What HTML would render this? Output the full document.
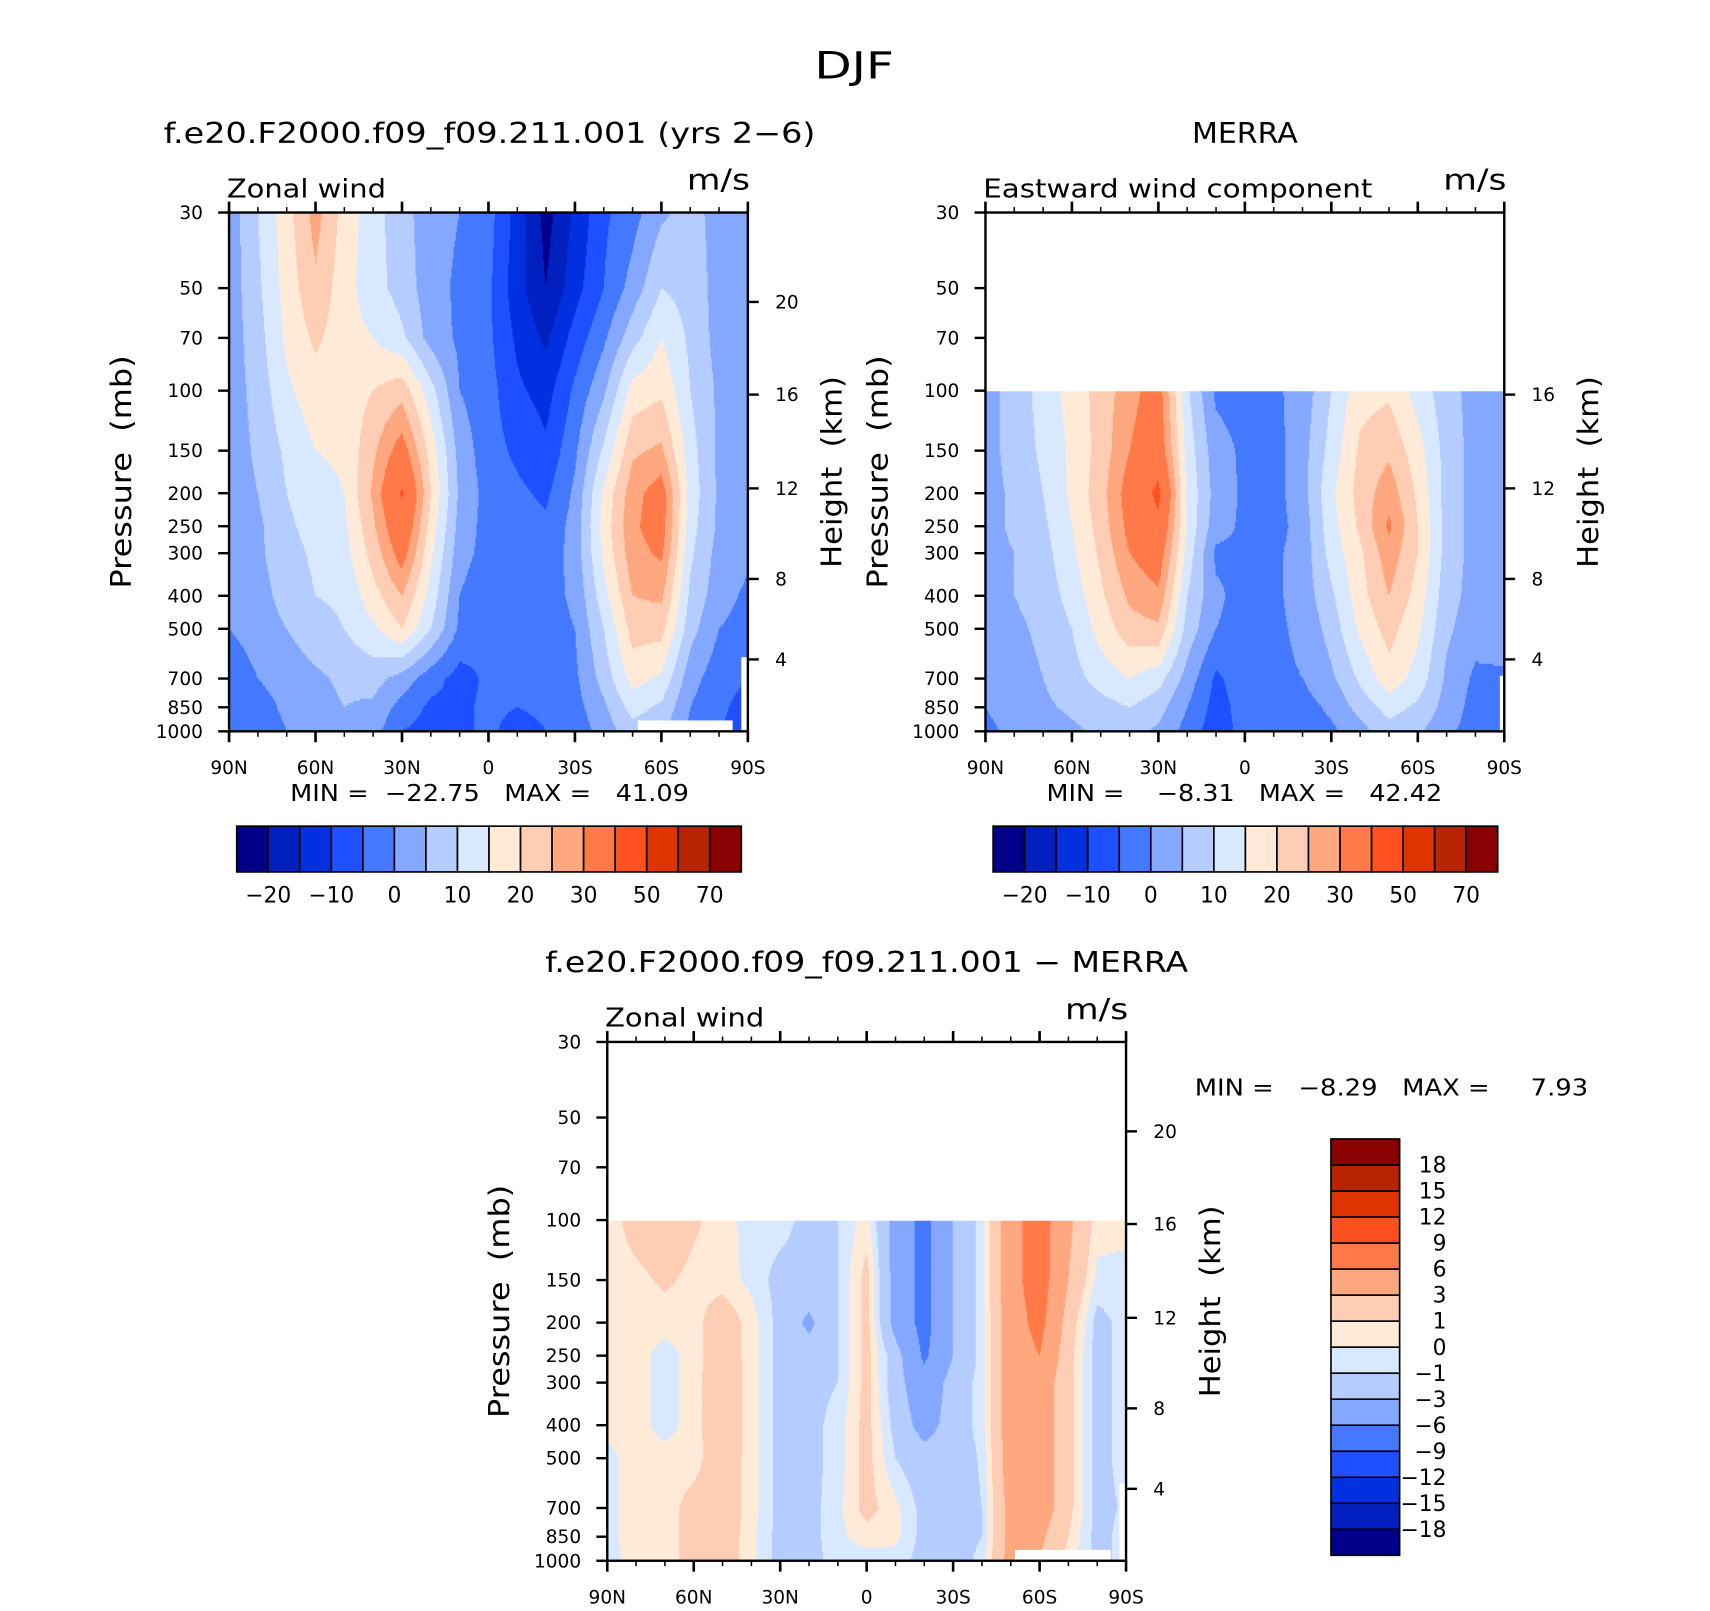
<!DOCTYPE html>
<html><head><meta charset="utf-8"><style>
html,body{margin:0;padding:0;background:#fff;}
svg{display:block;font-family:"DejaVu Sans","Liberation Sans",sans-serif;}
text{white-space:pre;}
</style></head><body>
<svg id="root" width="1710" height="1611" viewBox="0 0 1568.6 1478.1" xmlns="http://www.w3.org/2000/svg">
<text x="747" y="72" font-size="34" textLength="73" lengthAdjust="spacingAndGlyphs" fill="#000">DJF</text>
</svg>
<script>
// ---------- data ----------
const lats = ['90N','80N','70N','60N','50N','40N','30N','20N','10N','0','10S','20S','30S','40S','50S','60S','70S','80S','90S'];
const xTickLabels = ['90N','60N','30N','0','30S','60S','90S'];
const levels = [30,50,70,100,150,200,250,300,400,500,700,850,1000];
const pTickLabels = [30,50,70,100,150,200,250,300,400,500,700,850,1000];
const heightKm = [20,16,12,8,4];
const heightP = [54.9,102.7,193.6,357,615];

const modelU = [
 [2,10,18,27,18,12,7,2,0,-3,-12,-22,-14,-6,-2,4,7,3,2],
 [2,9,17,24,17,12,8,2,-1,-4,-13,-20,-12,-5,2,10,8,3,2],
 [2,8,16,21,17,15,11,3,-1,-4,-11,-16,-8,-1,8,15,9,3,2],
 [2,7,14,18,17,20,23,12,0,-3,-9,-12,-4,4,17,19,10,4,2],
 [2,6,11,15,16,24,33,18,3,-3,-6,-9,-1,11,24,26,12,4,2],
 [2,5,10,13,15,26,41,20,4,-2,-4,-6,1,16,28,33,13,4,2],
 [1,4,9,12,14,24,37,18,3,-2,-3,-4,2,17,29,33,12,4,1],
 [1,4,8,11,13,22,33,16,2,-2,-3,-3,2,16,28,31,11,3,1],
 [0,3,7,10,11,18,25,13,0,-4,-3,-2,1,13,25,26,9,2,-1],
 [0,2,5,8,10,14,20,10,-1,-4,-3,-2,0,10,22,22,7,0,-2],
 [-3,0,2,4,6,7,3,-3,-7,-4,-3,-3,-1,7,17,14,2,-3,-5],
 [-4,-2,1,3,5,4,-2,-6,-6,-4,-5,-4,-2,4,12,9,0,-4,-7],
 [-4,-3,0,3,4,2,-5,-7,-6,-4,-7,-5,-3,2,8,6,-1,-5,-7]
];
const merraU = [
 null,null,null,
 [3,7,12,17,22,28,33,11,-1,-2,-1,2,10,18,19,13,7,3,3],
 [3,7,11,16,22,30,35,13,2,-1,-2,3,12,21,24,17,8,3,3],
 [3,6,10,16,23,33,42,14,3,-1,-2,3,14,22,28,19,8,3,3],
 [3,6,9,15,22,32,38,14,2,-1,-2,2,13,21,31,20,8,3,3],
 [3,5,8,14,21,30,34,13,-1,-1,-1,2,12,19,28,20,8,3,3],
 [3,5,7,12,19,26,29,10,1,-2,-1,2,9,18,25,18,7,3,3],
 [3,4,6,10,17,23,24,8,0,-2,-1,1,7,16,22,16,6,2,3],
 [2,3,5,8,12,15,12,3,-6,-2,-1,0,4,11,18,13,4,-1,-1],
 [0,2,4,6,8,10,7,0,-7,-3,-2,-2,1,7,12,9,3,-2,-3],
 [-1,1,2,4,6,7,4,-2,-8,-3,-2,-2,-1,3,8,6,1,-2,-4]
];
const diffU = [
 null,null,null,
 [0.5,1.5,2,1.2,0.5,-0.5,-0.5,-1.5,-1,0.5,-4,-7,-3,-0.5,5,7.5,3.5,0.5,0.5],
 [0.5,0.7,1.2,0.7,0.5,-0.3,-1.5,-1.5,-1,1.5,-4,-7,-3,-0.5,5,7.5,3,-0.3,-0.5],
 [0.5,0.5,0.5,0.5,2,0.5,-1.5,-3.5,-1,1.5,-4,-7,-3,-0.5,4.5,7,2,-1.5,-0.5],
 [0.5,0.5,-0.5,0.5,2,0.5,-1.5,-2,-1,1.5,-2,-6.5,-3,-0.5,4.5,6,1.5,-1.5,-0.5],
 [0.5,0.5,-0.5,0.5,2.2,0.5,-1.5,-1.5,-1,1.5,-2,-5,-2,-0.5,4.5,4.5,1.5,-1.5,-0.5],
 [0.3,0.5,-0.5,0.5,2.2,0.5,-1.5,-1.5,-0.5,1.5,-1.5,-4,-2,-0.5,4.5,4.5,1.5,-1.5,-0.5],
 [-0.3,0.5,0.5,0.5,2,0.5,-1.5,-1.5,-0.5,1.5,-1,-2,-2,-0.8,4.5,4.5,1.5,-1.5,-0.5],
 [-0.3,0.5,0.5,1.5,2,0.5,-1.5,-1.5,-0.3,1.5,0.3,-1.5,-2,-1,4,4.5,1.5,-1.5,-0.8],
 [-0.3,0.5,0.5,1.5,2,0.3,-1.5,-1.5,-0.3,0.5,0.3,-1.5,-2,-1,4,3.5,1,-1.5,-0.5],
 [-0.3,0.3,0.5,1.5,2,0.3,-1.5,-1.5,-0.5,-0.5,-0.5,-1.5,-2,-0.5,4,3,0.5,-1.5,-0.5]
];
const colors = ['#00008b','#0020c0','#0030e0','#1e50ff','#4478ff','#84a8ff','#b4ccff','#d8e8ff','#ffead8','#ffccb4','#ffa880','#ff7a48','#ff5020','#e03400','#b82400','#8b0000'];
const windLevels = [-20,-15,-10,-5,0,5,10,15,20,25,30,40,50,60,70];
const windLabels = ['\u221220','\u221210','0','10','20','30','50','70'];
const diffLevels = [-18,-15,-12,-9,-6,-3,-1,0,1,3,6,9,12,15,18];
const diffLabels = ['\u221218','\u221215','\u221212','\u22129','\u22126','\u22123','\u22121','0','1','3','6','9','12','15','18'];

// ---------- rendering ----------
const NS='http://www.w3.org/2000/svg';
const root=document.getElementById('root');
function el(tag,attrs,parent,text){const e=document.createElementNS(NS,tag);for(const k in attrs)e.setAttribute(k,attrs[k]);if(text!==undefined)e.textContent=text;(parent||root).appendChild(e);return e;}
function fit(e,len){e.setAttribute('textLength',len);e.setAttribute('lengthAdjust','spacingAndGlyphs');return e;}
const S=476, LN=Math.log(1000/30);
function colorFor(v,lv){let i=0;while(i<lv.length&&v>=lv[i])i++;return colors[i];}

function panel(ox,oy,field,name,opts){
  const g=el('g',{});
  
  
  const xs=i=>ox+i*S/(lats.length-1);
  const yp=p=>oy+S*Math.log(p/30)/LN;
  const lp=levels.map(p=>Math.log(p));
  const cg=el('g',{},g);
  
  
  const dy=2;
  for(let y=0;y<S;y+=dy){
    const l=Math.log(30)+(y+dy/2)/S*LN;
    let k=0;while(k<levels.length-2&&lp[k+1]<l)k++;
    const r0=field[k], r1=field[k+1];
    if(!r0||!r1) continue;
    const t=(l-lp[k])/(lp[k+1]-lp[k]);
    let runStart=0,runCol=null;
    for(let x=0;x<=S;x++){
      let c=null;
      if(x<S){
        const fi=(x+0.5)/S*(lats.length-1);
        let i=Math.min(Math.floor(fi),lats.length-2);const u=fi-i;
        const v=(1-t)*((1-u)*r0[i]+u*r0[i+1])+t*((1-u)*r1[i]+u*r1[i+1]);
        c=colorFor(v,opts.lv);
      }
      if(c!==runCol){
        if(runCol!==null){el('rect',{x:ox+runStart,y:oy+y,width:x-runStart+0.4,height:dy+0.4,fill:runCol},cg);}
        runStart=x;runCol=c;
      }
    }
  }
  (opts.white||[]).forEach(w=>{el('rect',{x:ox+w[0],y:oy+w[1],width:w[2],height:w[3],fill:'#fff'},g);});
  const fr=el('rect',{x:ox,y:oy,width:S,height:S,fill:'none',stroke:'#000','stroke-width':2.2},g);
  
  
  for(let i=0;i<lats.length;i++){
    const x=xs(i), major=i%3===0, len=major?10:5;
    el('line',{x1:x,y1:oy+S,x2:x,y2:oy+S+len,stroke:'#000','stroke-width':major?2.4:1.4},g);
    el('line',{x1:x,y1:oy,x2:x,y2:oy-len,stroke:'#000','stroke-width':major?2.4:1.4},g);
  }
  xTickLabels.forEach((lb,j)=>{const t=el('text',{x:xs(j*3),y:oy+S+39,'font-size':17,'text-anchor':'middle'},g,lb);
    
    });
  pTickLabels.forEach(p=>{const y=yp(p);
    el('line',{x1:ox-10,y1:y,x2:ox,y2:y,stroke:'#000','stroke-width':2.2},g);
    const t=el('text',{x:ox-24,y:y+6,'font-size':17,'text-anchor':'end'},g,String(p));
    
    });
  heightKm.forEach((h,j)=>{ if(opts.noH20&&h===20) return; const y=yp(heightP[j]);
    el('line',{x1:ox+S,y1:y,x2:ox+S+10,y2:y,stroke:'#000','stroke-width':2.2},g);
    const t=el('text',{x:ox+S+25,y:y+6,'font-size':17},g,String(h));
    
    });
  const ya=fit(el('text',{x:0,y:0,'font-size':26,'text-anchor':'middle',transform:`translate(${ox-90},${oy+238}) rotate(-90)`},g,'Pressure  (mb)'),214);
  
  
  const ya2=fit(el('text',{x:0,y:0,'font-size':26,'text-anchor':'middle',transform:`translate(${ox+S+86},${oy+238}) rotate(-90)`},g,'Height  (km)'),176);
  
  
  const lt=fit(el('text',{x:ox-2,y:oy-14,'font-size':24},g,opts.left),opts.leftLen);
  
  
  const rt=fit(el('text',{x:ox+S-56,y:oy-21,'font-size':26},g,'m/s'),58);
  
  
  const tt=fit(el('text',{x:opts.tx-opts.tlen/2,y:oy-64,'font-size':26},g,opts.title),opts.tlen);
  
  
}

function hbar(x0,y0,name,mm,mx,mlen){
  const g=el('g',{});
  
  
  const w=463/colors.length;
  colors.forEach((c,i)=>{const r=el('rect',{x:x0+i*w,y:y0,width:w,height:42,fill:c,stroke:'#000','stroke-width':1.5},g);
    
    });
  windLabels.forEach((lb,j)=>{const t=el('text',{x:x0+(2*j+1)*w,y:y0+70,'font-size':20,'text-anchor':'middle'},g,lb);
    
    });
  const m=fit(el('text',{x:mx,y:y0-23,'font-size':21},g,mm),mlen);
  
  
}

panel(210,195,modelU,'model-panel',{lv:windLevels,left:'Zonal wind',leftLen:146,title:'f.e20.F2000.f09_f09.211.001 (yrs 2\u22126)',tx:449,tlen:598,
  white:[[375,466,87,10],[470,408,6,68]]});
panel(904,195,merraU,'merra-panel',{lv:windLevels,left:'Eastward wind component',leftLen:357,title:'MERRA',tx:1142,tlen:97,noH20:true,
  white:[[472,425,4,51]]});
panel(557,956,diffU,'difference-panel',{lv:diffLevels,left:'Zonal wind',leftLen:146,title:'f.e20.F2000.f09_f09.211.001 \u2212 MERRA',tx:795,tlen:590,
  white:[[374,466,88,10],[470,405,6,71]]});
hbar(217,758,'model-colorbar','MIN =  \u221222.75   MAX =   41.09',266,366);
hbar(911,758,'merra-colorbar','MIN =    \u22128.31   MAX =   42.42',960,363);

(function(){
  const g=el('g',{});
  
  
  const x0=1221,y0=1045,h=382/colors.length;
  colors.forEach((c,i)=>{const r=el('rect',{x:x0,y:y0+(colors.length-1-i)*h,width:63,height:h,fill:c,stroke:'#000','stroke-width':1.5},g);
    
    });
  diffLabels.forEach((lb,j)=>{const t=el('text',{x:1327,y:y0+(colors.length-1-j)*h+7,'font-size':20,'text-anchor':'end'},g,lb);
    
    });
  const m=fit(el('text',{x:1096,y:1005,'font-size':21},g,'MIN =   \u22128.29   MAX =     7.93'),361);
  
  
})();
</script>
</body></html>
